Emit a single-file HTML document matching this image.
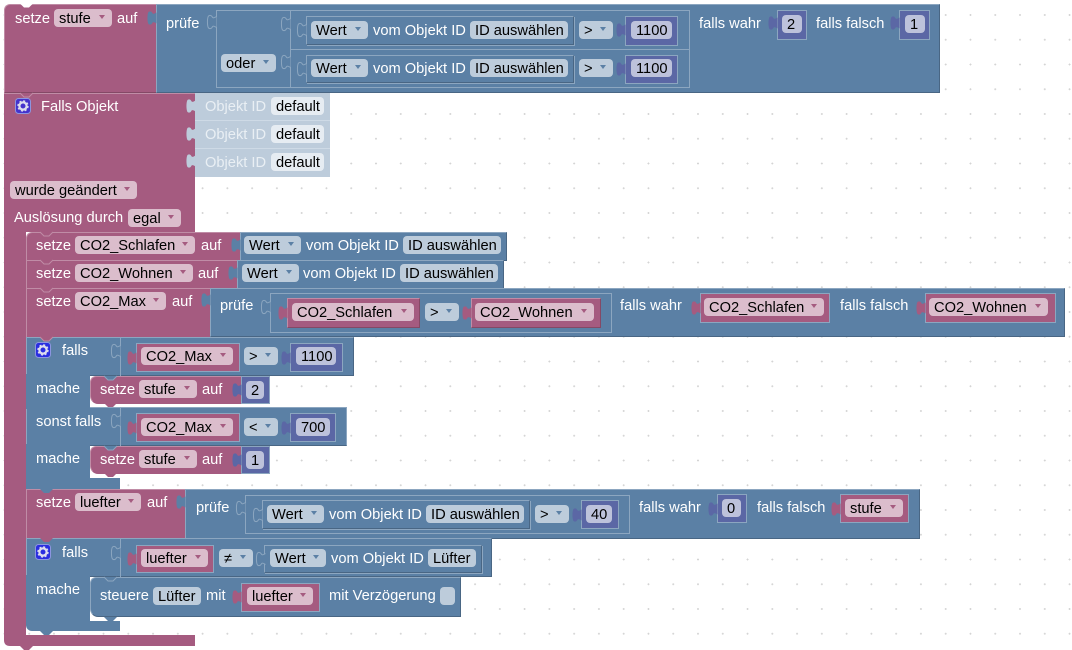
<!DOCTYPE html>
<html><head><meta charset="utf-8"><style>
html,body{margin:0;padding:0;background:#fff;width:1072px;height:650px;overflow:hidden;font:14.67px/20px "Liberation Sans",Arial,sans-serif}
svg.o{position:absolute;left:0;top:0}
div,span{position:absolute;box-sizing:border-box;white-space:nowrap}
.B,.P,.Q,.U,.L{border:1px solid}
.B{background:#5B80A5;border-color:#8CA6C0 #496684 #496684 #8CA6C0}
.L{background:#5B80A5;border-color:#8CA6C0}
.N{background:#5B80A5;border-color:#8CA6C0 #496684 #496684 #8CA6C0;border-style:solid;border-width:1px;box-shadow:1px 1px 0 #8CA6C0}
.P{background:#A55B80;border-color:#C08CA6 #844966 #844966 #C08CA6}
.Q{background:#A55B80;border-color:#C08CA6 #A55B80 #A55B80 #C08CA6}
.V{background:#A55B80;border:1px solid #8CA6C0;box-shadow:inset 0 0 0 1px #A55B80}
.U{background:#5B67A5;border-color:#8CA6C0}
.c{background:#5B80A5}
.w{background:#fff}
.t{color:#fff}
.f{height:18px;border-radius:4px;padding-left:5px;color:#000;background:#BDCCDB}
.fp{background:#DBBDCC}
.fu{background:#BDC2DB}
.fg{background:#E6ECF2}
.d::after{content:"";position:absolute;right:7px;top:6px;border-left:3px solid transparent;border-right:3px solid transparent;border-top:4.5px solid #5B80A5}
.fp.d::after{border-top-color:#A55B80}
.g{background:#BDCCDB;border-bottom:1px solid #CEDAE6}
.gt{color:#E9EFF4}
.p{fill:#A55B80}.b{fill:#5B80A5}.u{fill:#5B67A5}.h{fill:#BDCCDB}
.s{fill:#5B80A5;stroke:#8CA6C0;stroke-width:1}
.np{fill:#A55B80;stroke:#C08CA6;stroke-width:1}
.nb{fill:#5B80A5;stroke:#8CA6C0;stroke-width:1}
</style></head><body>
<svg class="o" width="1072" height="650"><defs>
<pattern id="dots" width="24.77" height="24.75" patternUnits="userSpaceOnUse" x="2.95" y="13.5"><path d="M.5 1.5h2M1.5 .5v2" stroke="#d4d4d4" stroke-width="1"/></pattern></defs>
<rect width="1072" height="650" fill="url(#dots)"/>
<path class="p" d="M4 93H195V232H26V635H195V646H33l-4 4h-5l-4-4H10Q4 646 4 640Z"/>
<path d="M4 93.5H195" stroke="#C08CA6" fill="none"/>
</svg>

<!-- top block -->
<div class="P" style="left:4px;top:4px;width:153px;height:89px;border-top-left-radius:6px"></div>
<div class="B" style="left:156px;top:4px;width:784px;height:89px"></div>
<span class="t" style="left:15px;top:9px">setze</span>
<div class="f fp d" style="left:54px;top:9px;width:58px">stufe</div>
<span class="t" style="left:117px;top:9px">auf</span>
<span class="t" style="left:166px;top:14px">prüfe</span>
<div class="L" style="left:216px;top:10px;width:474px;height:78px"></div>
<div class="f d" style="left:221px;top:54px;width:55px">oder</div>
<div class="L" style="left:290px;top:10px;width:400px;height:40px"></div>
<div class="L" style="left:290px;top:49px;width:400px;height:39px"></div>
<div class="N" style="left:306px;top:16px;width:268px;height:29px"></div>
<div class="f d" style="left:311px;top:21px;width:57px">Wert</div>
<span class="t" style="left:373px;top:21px">vom Objekt ID</span>
<div class="f" style="left:470px;top:21px;width:98px">ID auswählen</div>
<div class="f d" style="left:579px;top:21px;width:34px">&gt;</div>
<div class="U" style="left:625px;top:16px;width:53px;height:30px"></div>
<div class="f fu" style="left:631px;top:21px;width:41px">1100</div>
<div class="N" style="left:306px;top:55px;width:268px;height:28px"></div>
<div class="f d" style="left:311px;top:59px;width:57px">Wert</div>
<span class="t" style="left:373px;top:59px">vom Objekt ID</span>
<div class="f" style="left:470px;top:59px;width:98px">ID auswählen</div>
<div class="f d" style="left:579px;top:59px;width:34px">&gt;</div>
<div class="U" style="left:625px;top:55px;width:53px;height:29px"></div>
<div class="f fu" style="left:631px;top:59px;width:41px">1100</div>
<span class="t" style="left:699px;top:14px">falls wahr</span>
<div class="U" style="left:777px;top:10px;width:30px;height:30px"></div>
<div class="f fu" style="left:782px;top:15px;width:20px">2</div>
<span class="t" style="left:816px;top:14px">falls falsch</span>
<div class="U" style="left:899px;top:10px;width:31px;height:30px"></div>
<div class="f fu" style="left:905px;top:15px;width:20px">1</div>

<!-- Falls Objekt -->
<span class="t" style="left:41px;top:97px">Falls Objekt</span>
<div class="g" style="left:195px;top:93px;width:135px;height:28px"></div>
<div class="g" style="left:195px;top:121px;width:135px;height:28px"></div>
<div class="g" style="left:195px;top:149px;width:135px;height:28px;border:0"></div>
<span class="gt" style="left:205px;top:97px">Objekt ID</span><div class="f fg" style="left:271px;top:97px;width:53px">default</div>
<span class="gt" style="left:205px;top:125px">Objekt ID</span><div class="f fg" style="left:271px;top:125px;width:53px">default</div>
<span class="gt" style="left:205px;top:153px">Objekt ID</span><div class="f fg" style="left:271px;top:153px;width:53px">default</div>
<div class="f fp d" style="left:10px;top:181px;width:127px">wurde geändert</div>
<span class="t" style="left:14px;top:208px">Auslösung durch</span>
<div class="f fp d" style="left:128px;top:209px;width:53px">egal</div>

<!-- CO2_Schlafen -->
<div class="Q" style="left:26px;top:232px;width:215px;height:29px;border-top-left-radius:6px"></div>
<div class="B" style="left:240px;top:232px;width:267px;height:29px"></div>
<span class="t" style="left:36px;top:236px">setze</span>
<div class="f fp d" style="left:75px;top:236px;width:120px">CO2_Schlafen</div>
<span class="t" style="left:201px;top:236px">auf</span>
<div class="f d" style="left:244px;top:236px;width:57px">Wert</div>
<span class="t" style="left:306px;top:236px">vom Objekt ID</span>
<div class="f" style="left:403px;top:236px;width:98px">ID auswählen</div>

<!-- CO2_Wohnen -->
<div class="Q" style="left:26px;top:260px;width:212px;height:29px"></div>
<div class="B" style="left:237px;top:260px;width:267px;height:29px"></div>
<span class="t" style="left:36px;top:264px">setze</span>
<div class="f fp d" style="left:75px;top:264px;width:118px">CO2_Wohnen</div>
<span class="t" style="left:198px;top:264px">auf</span>
<div class="f d" style="left:242px;top:264px;width:57px">Wert</div>
<span class="t" style="left:303px;top:264px">vom Objekt ID</span>
<div class="f" style="left:400px;top:264px;width:98px">ID auswählen</div>

<!-- CO2_Max -->
<div class="Q" style="left:26px;top:288px;width:185px;height:50px"></div>
<div class="B" style="left:210px;top:288px;width:855px;height:49px"></div>
<span class="t" style="left:36px;top:292px">setze</span>
<div class="f fp d" style="left:75px;top:292px;width:91px">CO2_Max</div>
<span class="t" style="left:172px;top:292px">auf</span>
<span class="t" style="left:220px;top:296px">prüfe</span>
<div class="L" style="left:270px;top:293px;width:342px;height:40px"></div>
<div class="P" style="left:287px;top:298px;width:133px;height:30px"></div>
<div class="f fp d" style="left:292px;top:303px;width:122px">CO2_Schlafen</div>
<div class="f d" style="left:425px;top:303px;width:34px">&gt;</div>
<div class="P" style="left:471px;top:298px;width:130px;height:30px"></div>
<div class="f fp d" style="left:475px;top:303px;width:119px">CO2_Wohnen</div>
<span class="t" style="left:620px;top:296px">falls wahr</span>
<div class="V" style="left:700px;top:293px;width:130px;height:30px"></div>
<div class="f fp d" style="left:704px;top:298px;width:120px">CO2_Schlafen</div>
<span class="t" style="left:840px;top:296px">falls falsch</span>
<div class="V" style="left:925px;top:293px;width:131px;height:30px"></div>
<div class="f fp d" style="left:929px;top:298px;width:119px">CO2_Wohnen</div>

<!-- if 1 -->
<div class="B" style="left:26px;top:337px;width:328px;height:39px"></div>
<div class="B" style="left:26px;top:407px;width:321px;height:39px;border-right-color:#8CA6C0"></div>
<div class="c" style="left:26px;top:374px;width:64px;height:35px"></div>
<div class="c" style="left:26px;top:444px;width:64px;height:34px"></div>
<div class="c" style="left:26px;top:474px;width:94px;height:15px"></div>
<div class="w" style="left:90px;top:395px;width:30px;height:12px"></div>
<div class="w" style="left:90px;top:465px;width:30px;height:13px"></div>
<div class="L" style="left:120px;top:338px;width:1px;height:38px;border-width:0 0 0 1px"></div>
<div class="L" style="left:120px;top:408px;width:1px;height:38px;border-width:0 0 0 1px"></div>
<span class="t" style="left:62px;top:341px">falls</span>
<div class="V" style="left:136px;top:343px;width:104px;height:29px"></div>
<div class="f fp d" style="left:141px;top:347px;width:92px">CO2_Max</div>
<div class="f d" style="left:244px;top:347px;width:34px">&gt;</div>
<div class="U" style="left:290px;top:343px;width:53px;height:29px"></div>
<div class="f fu" style="left:296px;top:347px;width:40px">1100</div>
<span class="t" style="left:36px;top:379px">mache</span>
<div class="P" style="left:90px;top:376px;width:152px;height:28px;border-radius:6px 0 0 8px;border-bottom-color:#A55B80"></div>
<span class="t" style="left:100px;top:380px">setze</span>
<div class="f fp d" style="left:139px;top:380px;width:58px">stufe</div>
<span class="t" style="left:202px;top:380px">auf</span>
<div class="U" style="left:241px;top:376px;width:29px;height:28px"></div>
<div class="f fu" style="left:246px;top:381px;width:18px">2</div>
<span class="t" style="left:36px;top:412px">sonst falls</span>
<div class="V" style="left:136px;top:413px;width:104px;height:29px"></div>
<div class="f fp d" style="left:141px;top:418px;width:92px">CO2_Max</div>
<div class="f d" style="left:244px;top:418px;width:34px">&lt;</div>
<div class="U" style="left:290px;top:413px;width:46px;height:29px"></div>
<div class="f fu" style="left:296px;top:418px;width:34px">700</div>
<span class="t" style="left:36px;top:449px">mache</span>
<div class="P" style="left:90px;top:446px;width:152px;height:28px;border-radius:6px 0 0 8px;border-bottom-color:#A55B80"></div>
<span class="t" style="left:100px;top:450px">setze</span>
<div class="f fp d" style="left:139px;top:450px;width:58px">stufe</div>
<span class="t" style="left:202px;top:450px">auf</span>
<div class="U" style="left:241px;top:446px;width:29px;height:28px"></div>
<div class="f fu" style="left:246px;top:451px;width:18px">1</div>

<!-- luefter -->
<div class="Q" style="left:26px;top:489px;width:160px;height:50px"></div>
<div class="B" style="left:185px;top:489px;width:735px;height:50px"></div>
<span class="t" style="left:36px;top:493px">setze</span>
<div class="f fp d" style="left:75px;top:493px;width:66px">luefter</div>
<span class="t" style="left:147px;top:493px">auf</span>
<span class="t" style="left:196px;top:498px">prüfe</span>
<div class="L" style="left:245px;top:495px;width:385px;height:39px"></div>
<div class="N" style="left:262px;top:500px;width:268px;height:29px"></div>
<div class="f d" style="left:267px;top:505px;width:57px">Wert</div>
<span class="t" style="left:329px;top:505px">vom Objekt ID</span>
<div class="f" style="left:426px;top:505px;width:98px">ID auswählen</div>
<div class="f d" style="left:535px;top:505px;width:34px">&gt;</div>
<div class="U" style="left:581px;top:500px;width:38px;height:29px"></div>
<div class="f fu" style="left:586px;top:505px;width:26px">40</div>
<span class="t" style="left:639px;top:498px">falls wahr</span>
<div class="U" style="left:717px;top:494px;width:30px;height:29px"></div>
<div class="f fu" style="left:722px;top:499px;width:19px">0</div>
<span class="t" style="left:757px;top:498px">falls falsch</span>
<div class="V" style="left:840px;top:494px;width:69px;height:29px"></div>
<div class="f fp d" style="left:845px;top:499px;width:58px">stufe</div>

<!-- if 2 -->
<div class="B" style="left:26px;top:538px;width:466px;height:39px"></div>
<div class="c" style="left:26px;top:575px;width:64px;height:47px"></div>
<div class="c" style="left:26px;top:617px;width:94px;height:14px;border-bottom-left-radius:6px"></div>
<div class="w" style="left:90px;top:608px;width:30px;height:13px"></div>
<div class="L" style="left:120px;top:539px;width:1px;height:38px;border-width:0 0 0 1px"></div>
<span class="t" style="left:62px;top:543px">falls</span>
<div class="V" style="left:136px;top:545px;width:78px;height:28px"></div>
<div class="f fp d" style="left:141px;top:549px;width:67px">luefter</div>
<div class="f d" style="left:219px;top:549px;width:34px">≠</div>
<div class="N" style="left:264px;top:545px;width:218px;height:28px"></div>
<div class="f d" style="left:270px;top:549px;width:56px">Wert</div>
<span class="t" style="left:331px;top:549px">vom Objekt ID</span>
<div class="f" style="left:428px;top:549px;width:48px">Lüfter</div>
<span class="t" style="left:36px;top:580px">mache</span>
<div class="B" style="left:90px;top:577px;width:371px;height:40px;border-radius:6px 0 0 8px"></div>
<span class="t" style="left:100px;top:586px">steuere</span>
<div class="f" style="left:153px;top:587px;width:48px">Lüfter</div>
<span class="t" style="left:206px;top:586px">mit</span>
<div class="V" style="left:241px;top:583px;width:79px;height:29px"></div>
<div class="f fp d" style="left:247px;top:587px;width:66px">luefter</div>
<span class="t" style="left:329px;top:586px">mit Verzögerung</span>
<div class="f" style="left:440px;top:587px;width:15px"></div>

<svg class="o" width="1072" height="650"><defs>
<path id="tb" d="M8.5 1.5C6 3 5 3.5 4 1.5C3 0 1 0 .2 1.5C-.8 4-.8 10 .2 12.5C1 14 3 14 4 12.5C5 10.5 6 11 8.5 12.5"/>
<path id="nt" d="M0 0l4 4h5l4-4"/>
<g id="gr"><rect x=".5" y=".5" width="15" height="15" rx="3" stroke="#8C95E0"/><circle cx="8" cy="8" r="3.6" fill="none" stroke="#DDE" stroke-width="2.2"/><circle cx="8" cy="8" r="4.8" fill="none" stroke="#DDE" stroke-width="1.8" stroke-dasharray="2 1.77"/></g>
</defs>
<path d="M20 3.5l4 4h5l4-4z" fill="#fff"/>
<use href="#tb" class="b" x="148" y="11"/>
<use href="#tb" class="s" x="208" y="15"/>
<use href="#tb" class="s" x="282" y="17"/><use href="#tb" class="s" x="282" y="55"/>
<use href="#tb" class="s" x="298" y="23"/><use href="#tb" class="s" x="298" y="62"/>
<use href="#tb" class="u" x="617" y="23"/><use href="#tb" class="u" x="617" y="62"/>
<use href="#tb" class="u" x="769" y="16"/><use href="#tb" class="u" x="891" y="16"/>
<use href="#tb" class="h" x="187" y="99"/><use href="#tb" class="h" x="187" y="127"/><use href="#tb" class="h" x="187" y="154"/>
<use href="#nt" class="np" x="20" y="93"/>
<use href="#gr" fill="#4433CC" x="15" y="98"/>
<use href="#tb" class="b" x="232" y="238"/><use href="#tb" class="b" x="229" y="266"/>
<use href="#tb" class="b" x="202" y="293"/>
<use href="#tb" class="s" x="262" y="300"/>
<use href="#tb" class="p" x="279" y="306"/><use href="#tb" class="p" x="463" y="306"/>
<use href="#tb" class="p" x="692" y="301"/><use href="#tb" class="p" x="917" y="301"/>
<use href="#nt" class="np" x="40" y="232"/><use href="#nt" class="np" x="40" y="260"/><use href="#nt" class="np" x="40" y="288"/>
<use href="#nt" class="np" x="40" y="337"/>
<use href="#gr" fill="#2A2EE0" x="35" y="342"/>
<use href="#tb" class="s" x="112" y="344"/>
<use href="#tb" class="p" x="128" y="351"/>
<use href="#tb" class="u" x="282" y="351"/>
<use href="#tb" class="u" x="233" y="383"/>
<use href="#nt" class="nb" x="104" y="376"/>
<path class="p" d="M104 403l4 4h5l4-4z"/>
<use href="#tb" class="s" x="112" y="414"/>
<use href="#tb" class="p" x="128" y="421"/>
<use href="#tb" class="u" x="282" y="421"/>
<use href="#tb" class="u" x="233" y="453"/>
<path class="p" d="M104 473l4 4h5l4-4z"/>
<use href="#nt" class="nb" x="104" y="446"/>
<path class="b" d="M40 489l4 4h5l4-4z"/>
<use href="#tb" class="b" x="177" y="495"/>
<use href="#tb" class="s" x="237" y="501"/>
<use href="#tb" class="s" x="254" y="508"/>
<use href="#tb" class="u" x="573" y="508"/>
<use href="#tb" class="u" x="709" y="502"/>
<use href="#tb" class="p" x="832" y="502"/>
<path class="p" d="M40 538l4 4h5l4-4z"/>
<use href="#gr" fill="#2A2EE0" x="35" y="544"/>
<use href="#tb" class="s" x="112" y="546"/>
<use href="#tb" class="p" x="128" y="552"/>
<use href="#tb" class="s" x="257" y="552"/>
<use href="#nt" class="nb" x="104" y="577"/>
<path class="b" d="M104 617l4 4h5l4-4z"/>
<use href="#tb" class="p" x="233" y="590"/>
<path class="b" d="M40 631l4 4h5l4-4z"/>
</svg>
</body></html>
